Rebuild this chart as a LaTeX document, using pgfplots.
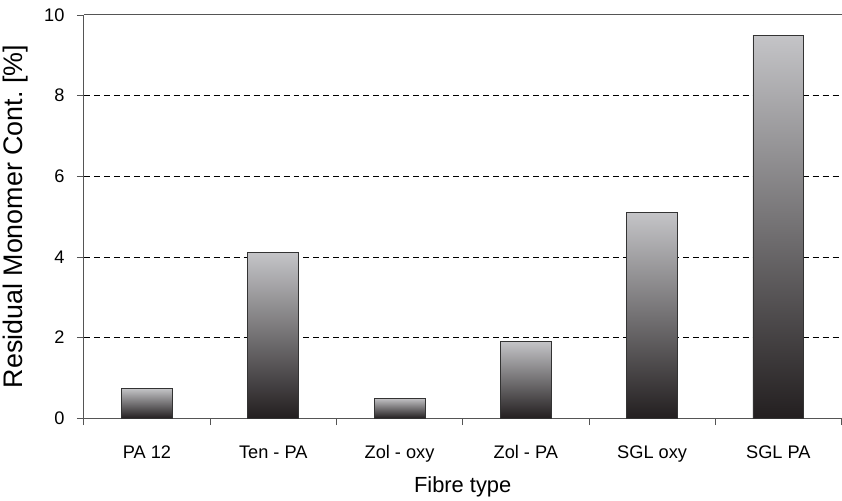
\documentclass[border=0pt]{standalone}
\usepackage{fontspec}
\setmainfont{Liberation Sans}
\usepackage{pgfplots}
\pgfplotsset{compat=1.18}
\definecolor{barTop}{HTML}{C4C4C7}
\definecolor{barMid}{HTML}{6E6E71}
\definecolor{barBot}{HTML}{231F20}
\definecolor{axgray}{HTML}{555555}
\pgfplotsset{gbar/.style={draw=black!80, line width=0.8pt, top color=barTop, middle color=barMid, bottom color=barBot, bar shift=0pt}}
\begin{document}
\begin{tikzpicture}[font=\fontsize{18.3}{20}\selectfont]
\begin{axis}[
  scale only axis,
  width=759bp, height=404bp,
  xmin=-0.5, xmax=5.5,
  ymin=0, ymax=10,
  ytick={0,2,4,6,8,10},
  extra y ticks={2,4,6,8},
  extra y tick labels={},
  extra y tick style={grid=major, major tick length=0pt, yticklabel style={draw=none, inner sep=0pt}},
  xtick={0,1,2,3,4,5},
  xticklabels={PA 12, Ten - PA, Zol - oxy, Zol - PA, SGL oxy, SGL PA},
  minor xtick={-0.5,0.5,1.5,2.5,3.5,4.5,5.5},
  major x tick style={draw=none},
  minor x tick style={axgray, line width=0.8pt},
  y tick style={axgray, line width=0.8pt},
  tick align=outside,
  minor tick length=7bp,
  major tick length=7bp,
  grid style={black, dash pattern=on 6bp off 4bp, line width=0.6pt},
  axis line style={axgray, line width=1pt},
  axis x line*=bottom,
  axis y line*=left,
  xlabel={Fibre type},
  ylabel={Residual Monomer Cont.\ [\%]},
  tick label style={font=\fontsize{18.3}{20}\selectfont},
  xlabel style={font=\fontsize{22}{24}\selectfont, yshift=-7bp},
  ylabel style={font=\fontsize{27}{30}\selectfont, yshift=2bp},
  xticklabel style={yshift=-17bp},
  yticklabel style={xshift=-9bp},
  /pgf/number format/assume math mode=true,
  ybar, bar width=51bp,
  clip=false,
]
\addplot[gbar] coordinates {(0,0.74)};
\addplot[gbar] coordinates {(1,4.1)};
\addplot[gbar] coordinates {(2,0.5)};
\addplot[gbar] coordinates {(3,1.9)};
\addplot[gbar] coordinates {(4,5.1)};
\addplot[gbar] coordinates {(5,9.5)};
\draw[axgray, line width=1pt] (axis cs:-0.5,10) -- (axis cs:5.5,10);
\path (axis cs:-0.5,10) -- ++(0,15bp);
\end{axis}
\end{tikzpicture}
\end{document}
